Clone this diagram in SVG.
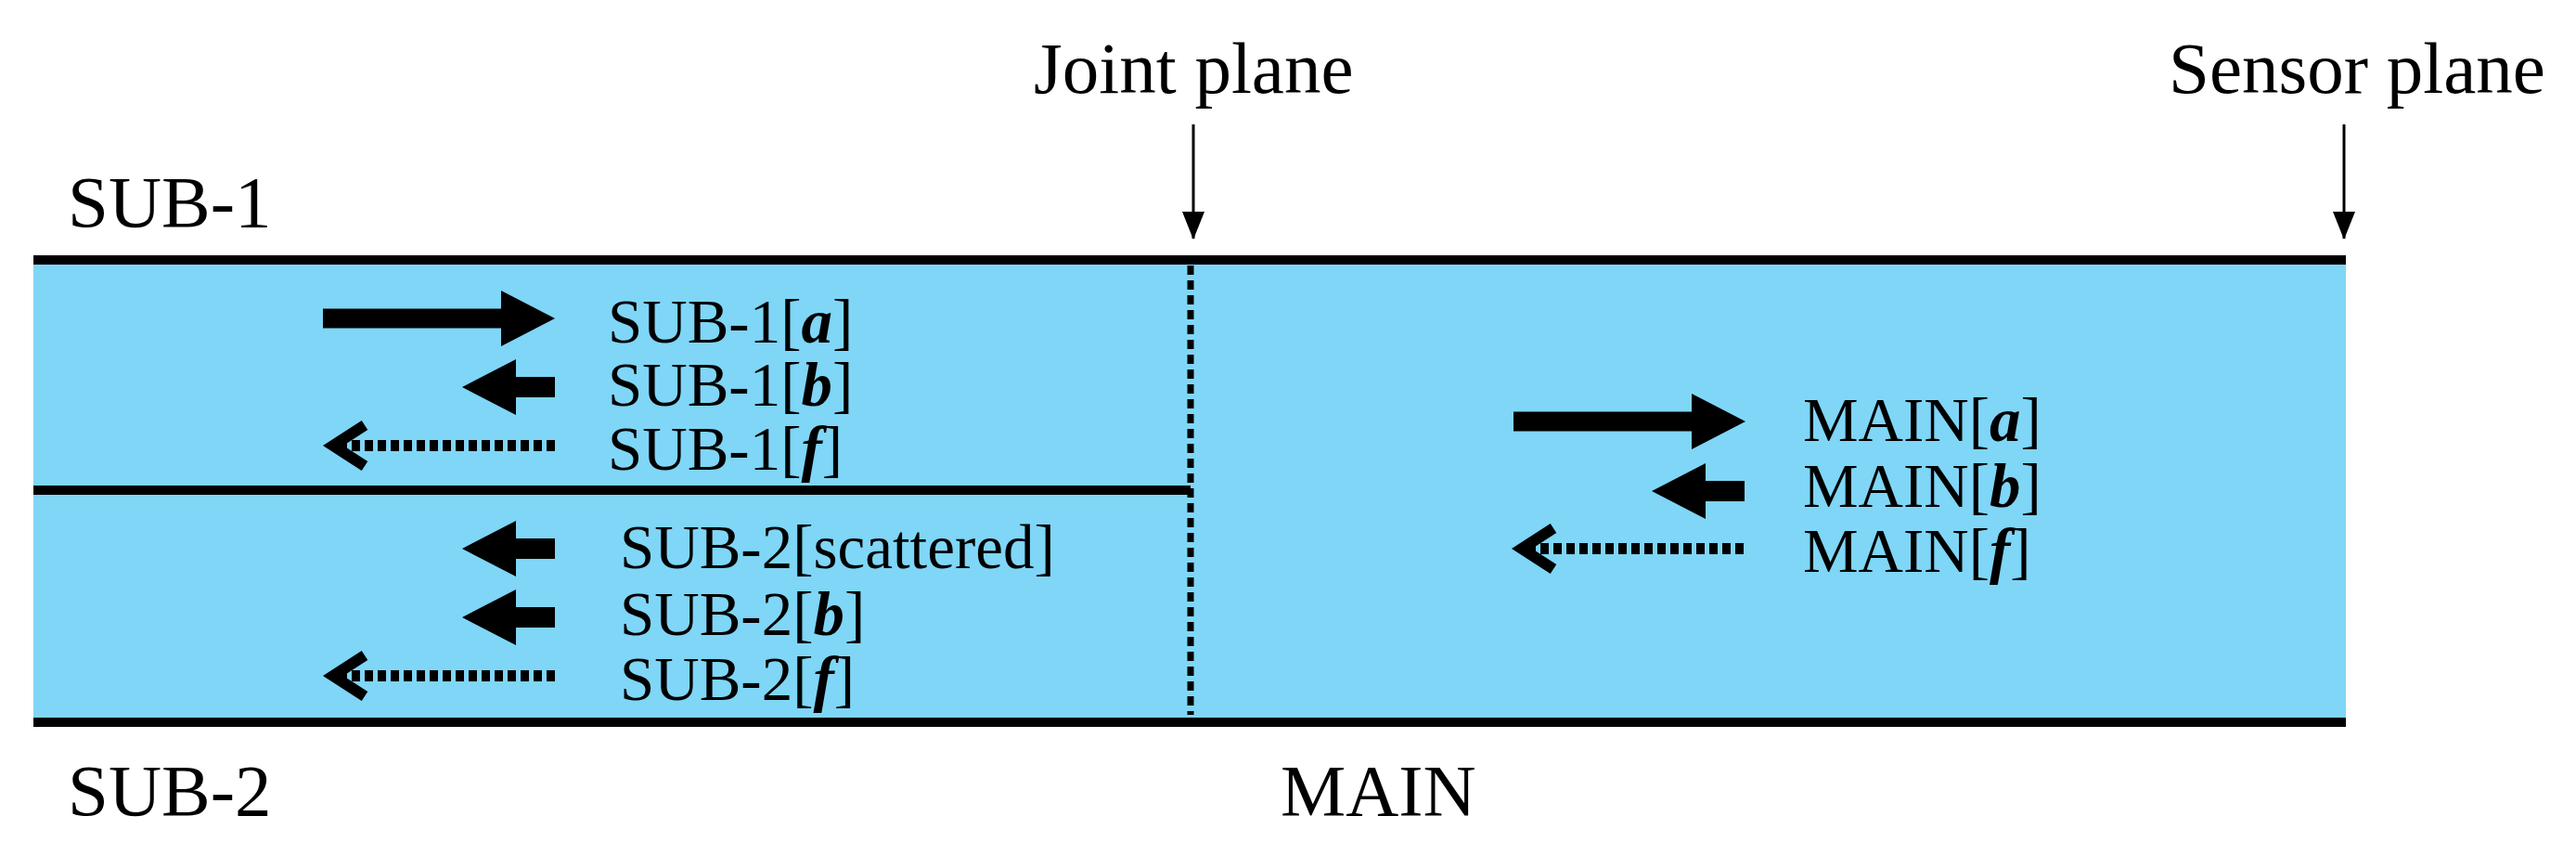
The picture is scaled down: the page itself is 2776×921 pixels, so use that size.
<svg xmlns="http://www.w3.org/2000/svg" width="2776" height="921" viewBox="0 0 2776 921">
<style>
text{font-family:"Liberation Serif","Times New Roman",serif;fill:#000}
.big{font-size:79px}
.lab{font-size:67px}
.v{font-weight:bold;font-style:italic}
.wall{stroke:#000;stroke-width:10}
.dot{stroke:#000;stroke-width:12;stroke-dasharray:9 5;fill:none}
.thin{stroke:#000;stroke-width:3}
</style>
<defs>
<marker id="ah" markerWidth="30" markerHeight="24" refX="29" refY="12" orient="auto" markerUnits="userSpaceOnUse"><path d="M0,0 L30,12 L0,24 Z" fill="#000"/></marker>
<g id="thickR"><path d="M0,-10.5 H192 V-30 L250,0 L192,30 V10.5 H0 Z" fill="#000"/></g>
<g id="shortL"><path d="M0,0 L58,-30 V-11 H100 V11 H58 V30 Z" fill="#000"/></g>
<g id="dotL"><line x1="12" y1="0" x2="245" y2="0" class="dot"/><path d="M40,-22 L6,0 L40,22" fill="none" stroke="#000" stroke-width="12"/></g>
</defs>
<rect id="channel" x="36" y="280" width="2492" height="498" fill="#7fd6f7"/>
<g id="walls">
<line class="wall" x1="36" y1="280" x2="2528" y2="280"/>
<line class="wall" x1="36" y1="528" x2="1283" y2="528"/>
<line class="wall" x1="36" y1="778" x2="2528" y2="778"/>
<line x1="1283" y1="286" x2="1283" y2="770" stroke="#000" stroke-width="7" stroke-dasharray="10 6"/>
</g>
<g id="labels">
<text class="big" x="73" y="244">SUB-1</text>
<text class="big" x="73" y="878">SUB-2</text>
<text class="big" x="1380" y="878">MAIN</text>
<text class="big" x="1114" y="100">Joint plane</text>
<text class="big" x="2337" y="100">Sensor plane</text>
</g>
<g id="connectors">
<line class="thin" x1="1286" y1="134" x2="1286" y2="257" marker-end="url(#ah)"/>
<line class="thin" x1="2526" y1="134" x2="2526" y2="257" marker-end="url(#ah)"/>
<use href="#thickR" x="348" y="343"/>
<use href="#shortL" x="498" y="417"/>
<use href="#dotL" x="353" y="480"/>
<use href="#shortL" x="498" y="591"/>
<use href="#shortL" x="498" y="665"/>
<use href="#dotL" x="353" y="728"/>
<use href="#thickR" x="1631" y="454"/>
<use href="#shortL" x="1780" y="529"/>
<use href="#dotL" x="1634" y="591"/>
</g>
<g id="sub1">
<text class="lab" x="655" y="369">SUB-1[<tspan class="v">a</tspan>]</text>
<text class="lab" x="655" y="437">SUB-1[<tspan class="v">b</tspan>]</text>
<text class="lab" x="655" y="506">SUB-1[<tspan class="v">f</tspan>]</text>
</g>
<g id="sub2">
<text class="lab" x="668" y="612">SUB-2[scattered]</text>
<text class="lab" x="668" y="684">SUB-2[<tspan class="v">b</tspan>]</text>
<text class="lab" x="668" y="754">SUB-2[<tspan class="v">f</tspan>]</text>
</g>
<g id="main">
<text class="lab" x="1943" y="475">MAIN[<tspan class="v">a</tspan>]</text>
<text class="lab" x="1943" y="546">MAIN[<tspan class="v">b</tspan>]</text>
<text class="lab" x="1943" y="616">MAIN[<tspan class="v">f</tspan>]</text>
</g>
</svg>
